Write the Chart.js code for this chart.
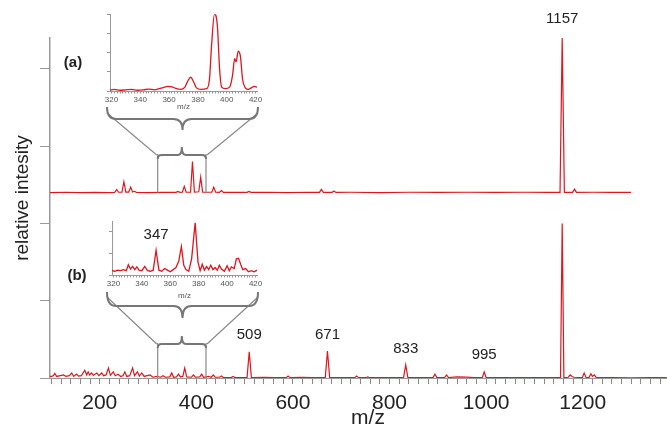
<!DOCTYPE html>
<html>
<head>
<meta charset="utf-8">
<script src="https://cdn.jsdelivr.net/npm/chart.js@4.4.1/dist/chart.umd.min.js"></script>
<style>
  html, body { margin: 0; padding: 0; background: #fff; }
  #wrap { position: relative; width: 667px; height: 433px; overflow: hidden; }
  canvas { position: absolute; }
</style>
</head>
<body>
<div id="wrap">
  <canvas id="main" width="667" height="433" style="left:0;top:0"></canvas>
  <canvas id="insetA" width="172" height="112" style="left:96px;top:4px"></canvas>
  <canvas id="insetB" width="170" height="92" style="left:98px;top:211px"></canvas>
</div>
<script>
// ---- spectrum (a), relative intensity (1157 peak = 2) ----
const aMz = [
  97, 130, 160, 190, 215,
  231, 235, 239, 246, 250, 254, 260, 264, 268, 272, 276,
  300, 330, 358, 362, 366, 371, 375, 379,
  388, 392, 396, 405, 409, 413, 432, 436, 440,
  448, 452, 456, 480, 505, 509, 513,
  550, 590, 630, 655, 659, 663, 681, 685, 689,
  720, 780, 840, 900, 960, 1020, 1080, 1130,
  1153, 1157.5, 1162, 1179, 1183, 1187, 1220, 1260, 1300
];
const aInt = [
  0.000, 0.004, 0.000, 0.003, 0.000,
  0.002, 0.040, 0.004, 0.004, 0.140, 0.006, 0.006, 0.070, 0.006, 0.016, 0.002,
  0.000, 0.003, 0.002, 0.015, 0.003, 0.004, 0.080, 0.004,
  0.004, 0.400, 0.006, 0.010, 0.200, 0.006, 0.004, 0.070, 0.004,
  0.003, 0.025, 0.002, 0.004, 0.002, 0.014, 0.002,
  0.004, 0.000, 0.004, 0.002, 0.040, 0.003, 0.003, 0.020, 0.002,
  0.004, 0.000, 0.004, 0.001, 0.004, 0.001, 0.004, 0.001,
  0.002, 2.000, 0.002, 0.003, 0.045, 0.003, 0.004, 0.001, 0.003
];
const OFFSET_A = 2.4;

// ---- spectrum (b) ----
const bMz = [
  97, 100, 104, 107, 111, 118, 125, 130, 137, 142,
  146, 152, 156, 162, 169, 173, 176, 179, 183, 187,
  190, 194, 198, 204, 208, 213, 218, 222, 228, 232,
  238, 243, 248, 252, 256, 262, 268, 272, 278, 282,
  287, 292, 298, 304, 310, 318, 326, 331, 336, 345,
  349, 353, 359, 363, 367, 372, 376, 380, 390, 394,
  398, 407, 411, 415, 425, 431, 435, 439, 448, 452,
  456, 472, 476, 480, 495, 505, 509.5, 514, 540, 560,
  586, 590, 594, 620, 640, 667, 671.5, 676, 700, 728,
  732, 736, 751, 755, 759, 790, 829, 833.5, 838, 870,
  890, 894, 898, 914, 918, 922, 940, 960, 975, 992,
  996, 1000, 1040, 1080, 1120, 1150, 1154, 1157.5, 1161, 1170,
  1174, 1178, 1182, 1199, 1203, 1207, 1213, 1217, 1220, 1224,
  1228, 1260, 1300, 1340, 1380
];
const bInt = [
  0.02, 0.02, 0.03, 0.06, 0.02, 0.03, 0.04, 0.02, 0.03, 0.065,
  0.02, 0.05, 0.025, 0.03, 0.10, 0.04, 0.08, 0.04, 0.065, 0.035,
  0.05, 0.065, 0.03, 0.065, 0.03, 0.04, 0.13, 0.035, 0.08, 0.03,
  0.05, 0.02, 0.03, 0.08, 0.02, 0.03, 0.13, 0.03, 0.08, 0.025,
  0.065, 0.02, 0.03, 0.04, 0.01, 0.02, 0.01, 0.03, 0.01, 0.015,
  0.065, 0.01, 0.015, 0.05, 0.015, 0.02, 0.13, 0.015, 0.01, 0.04,
  0.01, 0.015, 0.05, 0.01, 0.02, 0.01, 0.04, 0.01, 0.01, 0.025,
  0.005, 0.005, 0.02, 0.005, 0.005, 0.005, 0.34, 0.005, 0.01, 0.005,
  0.005, 0.025, 0.005, 0.01, 0.004, 0.005, 0.35, 0.006, 0.006, 0.005,
  0.025, 0.005, 0.004, 0.013, 0.004, 0.006, 0.005, 0.17, 0.005, 0.006,
  0.005, 0.05, 0.005, 0.005, 0.04, 0.005, 0.015, 0.012, 0.004, 0.005,
  0.08, 0.005, 0.006, 0.004, 0.006, 0.004, 0.005, 2.0, 0.005, 0.01,
  0.04, 0.02, 0.01, 0.005, 0.065, 0.005, 0.005, 0.055, 0.02, 0.04,
  0.005, 0.006, 0.003, 0.006, 0.004
];

// ---- insets (zoom 320-420) ----
const insetAMz = [
  319, 322, 326, 330, 334, 338, 342, 346, 350, 353,
  356, 359, 362, 365, 368, 371, 373, 375, 377, 379,
  382, 386, 388, 389.5, 391.5, 393.5, 395, 396.5, 399, 402,
  404, 405.5, 406.5, 408, 409.5, 411, 413, 415, 417, 419,
  421
];
const insetAInt = [
  0.01, 0.02, 0.01, 0.015, 0.02, 0.01, 0.015, 0.025, 0.015, 0.03,
  0.045, 0.06, 0.055, 0.03, 0.02, 0.05, 0.13, 0.18, 0.12, 0.04,
  0.02, 0.03, 0.15, 0.6, 1.0, 0.85, 0.3, 0.05, 0.03, 0.05,
  0.2, 0.42, 0.38, 0.52, 0.45, 0.15, 0.04, 0.02, 0.04, 0.06,
  0.05
];
const insetBMz = [
  319, 321, 323, 325, 327, 329, 330.5, 332, 333.5, 335,
  336.5, 338, 340, 342, 344, 346, 348, 350, 352, 354,
  356, 358, 360, 362, 364, 366, 367.8, 369.5, 371, 373,
  375, 377.5, 379.5, 381, 382.5, 384, 385.5, 387, 388.5, 390,
  391.5, 393, 394.5, 396, 398, 400, 401.5, 403, 405, 406.5,
  408, 409.5, 411, 413, 415, 417, 419, 421
];
const insetBInt = [
  0.4, 0.35, 0.45, 0.4, 0.5, 0.4, 0.95, 0.55, 0.8, 0.5,
  0.75, 0.45, 0.4, 0.8, 0.4, 0.35, 0.45, 2.3, 0.45, 0.35,
  0.6, 0.45, 0.3, 0.5, 0.7, 1.3, 2.65, 0.9, 0.5, 0.35,
  1.5, 4.85, 1.2, 0.4, 1.0, 0.45, 0.8, 0.5, 0.9, 0.5,
  0.7, 0.45, 0.9, 0.55, 0.35, 0.85, 0.4, 0.75, 0.6, 1.5,
  1.55, 1.0, 0.5, 0.6, 0.3, 0.4, 0.3, 0.45
];

// ---- labels and ticks ----
const peakLabelMzA = [1157.5];
const peakLabelTextA = ['1157'];
const peakLabelMzB = [509.5, 671.5, 833.5, 996];
const peakLabelTextB = ['509', '671', '833', '995'];
const insetPeakMzB = [350];
const insetPeakTextB = ['347'];
const xMajorTicks = [200, 400, 600, 800, 1000, 1200];
const yTicks = [0, 1, 2, 3, 4];
const insetXLabels = [320, 340, 360, 380, 400, 420];
const insetAYTicks = [0, 0.25, 0.5, 0.75, 1];
const insetBYTicks = [0, 1, 2, 3, 4, 5];
const ZOOM_RANGE = [320, 420];

const RED = '#e3141c';
const AXIS = '#999';
const FONT = '"Liberation Sans", Arial, Helvetica, sans-serif';

const xMinorTicks = [];
for (let v = 100; v <= 1360; v += 20) xMinorTicks.push(v);
const insetXTicks = [];
for (let v = 320; v <= 420; v += 2) insetXTicks.push(v);

const toPts = (xs, ys, off = 0) => xs.map((m, i) => ({ x: m, y: ys[i] + off }));

function brace(ctx, x1, x2, yEnd, yMid, yTip, r) {
  const xm = (x1 + x2) / 2;
  ctx.beginPath();
  ctx.moveTo(x1, yEnd);
  ctx.quadraticCurveTo(x1, yMid, x1 + r, yMid);
  ctx.lineTo(xm - r, yMid);
  ctx.quadraticCurveTo(xm, yMid, xm, yTip);
  ctx.quadraticCurveTo(xm, yMid, xm + r, yMid);
  ctx.lineTo(x2 - r, yMid);
  ctx.quadraticCurveTo(x2, yMid, x2, yEnd);
  ctx.stroke();
}

// bracket geometry (pixels) linking each trace to its inset
const BRACKETS = [
  { base: OFFSET_A, small: { end: 159, mid: 155, tip: 147 }, big: { x1: 107, x2: 258, end: 107, mid: 119, tip: 130 }, diagTop: 113 },
  { base: 0,        small: { end: 348, mid: 344, tip: 336 }, big: { x1: 107, x2: 258, end: 292, mid: 306, tip: 318 }, diagTop: 297 }
];

const mainDecor = {
  id: 'mainDecor',
  afterDatasetsDraw(chart) {
    const { ctx, scales: { x, y } } = chart;
    ctx.save();
    const xl = x.getPixelForValue(ZOOM_RANGE[0]);
    const xr = x.getPixelForValue(ZOOM_RANGE[1]);
    BRACKETS.forEach(b => {
      const base = y.getPixelForValue(b.base);
      ctx.strokeStyle = '#8a8a8a';
      ctx.lineWidth = 1.2;
      ctx.beginPath();
      ctx.moveTo(xl, base); ctx.lineTo(xl, b.small.mid - 1);
      ctx.moveTo(xr, base); ctx.lineTo(xr, b.small.mid - 1);
      ctx.moveTo(xl - 1, b.small.mid); ctx.lineTo(b.big.x1, b.diagTop);
      ctx.moveTo(xr + 1, b.small.mid); ctx.lineTo(b.big.x2, b.diagTop);
      ctx.stroke();
      ctx.strokeStyle = '#777';
      ctx.lineWidth = 2;
      brace(ctx, xl, xr, b.small.end, b.small.mid, b.small.tip, 4);
      brace(ctx, b.big.x1, b.big.x2, b.big.end, b.big.mid, b.big.tip, 9);
    });

    ctx.fillStyle = '#222';
    ctx.textAlign = 'center';
    ctx.textBaseline = 'bottom';
    ctx.font = '15px ' + FONT;
    peakLabelMzA.forEach((m, i) => {
      const v = aInt[aMz.indexOf(m)] + OFFSET_A;
      ctx.fillText(peakLabelTextA[i], x.getPixelForValue(m), y.getPixelForValue(v) - 12);
    });
    peakLabelMzB.forEach((m, i) => {
      const v = bInt[bMz.indexOf(m)];
      ctx.fillText(peakLabelTextB[i], x.getPixelForValue(m), y.getPixelForValue(v) - 9);
    });

    ctx.textBaseline = 'middle';
    ctx.font = 'bold 15px ' + FONT;
    ctx.fillText('(a)', 73, 63);
    ctx.fillText('(b)', 77, 276);

    ctx.font = '21px ' + FONT;
    ctx.fillText('m/z', 368, 418);

    ctx.font = '19px ' + FONT;
    ctx.translate(23, 198);
    ctx.rotate(-Math.PI / 2);
    ctx.fillText('relative intesity', 0, 0);
    ctx.restore();
  }
};

new Chart(document.getElementById('main'), {
  type: 'line',
  data: {
    datasets: [
      { data: toPts(aMz, aInt, OFFSET_A), borderColor: RED, borderWidth: 1.2, pointRadius: 0, tension: 0, fill: false },
      { data: toPts(bMz, bInt), borderColor: RED, borderWidth: 1.2, pointRadius: 0, tension: 0, fill: false }
    ]
  },
  options: {
    responsive: false, animation: false, events: [],
    layout: { padding: { left: 0, right: 0, top: 38, bottom: 0 } },
    plugins: { legend: { display: false }, tooltip: { enabled: false } },
    scales: {
      x: {
        type: 'linear', min: 97, max: 1374,
        afterBuildTicks: s => { s.ticks = xMinorTicks.map(v => ({ value: v })); },
        afterFit: s => { s.height = 55; },
        grid: { drawOnChartArea: false, drawTicks: true, tickLength: 6, tickColor: '#888', tickWidth: 1 },
        border: { color: AXIS, width: 1 },
        ticks: {
          autoSkip: false, maxRotation: 0, minRotation: 0, padding: 7, color: '#222',
          font: { family: FONT, size: 21 },
          callback: v => xMajorTicks.includes(v) ? String(v) : ''
        }
      },
      y: {
        min: 0, max: 4.4,
        afterBuildTicks: s => { s.ticks = yTicks.map(v => ({ value: v })); },
        afterFit: s => { s.width = 50; },
        grid: { drawOnChartArea: false, tickLength: 10, tickColor: AXIS, tickWidth: 1 },
        border: { color: AXIS, width: 1.5 },
        ticks: { callback: () => '' }
      }
    }
  },
  plugins: [mainDecor]
});

function insetChart(id, mz, val, yTickList, tension, geo, extra) {
  return new Chart(document.getElementById(id), {
    type: 'line',
    data: { datasets: [{ data: toPts(mz, val), borderColor: RED, borderWidth: 1.3, pointRadius: 0, tension, cubicInterpolationMode: tension ? 'monotone' : 'default', fill: false }] },
    options: {
      responsive: false, animation: false, events: [],
      layout: { padding: { left: 0, right: geo.padRight, top: geo.padTop, bottom: 0 } },
      plugins: { legend: { display: false }, tooltip: { enabled: false } },
      scales: {
        x: {
          type: 'linear', min: 319, max: 421,
          afterBuildTicks: s => { s.ticks = insetXTicks.map(v => ({ value: v })); },
          afterFit: s => { s.height = geo.xHeight; },
          grid: { drawOnChartArea: false, tickLength: 2.5, tickColor: AXIS },
          border: { color: AXIS, width: 1 },
          ticks: {
            autoSkip: false, maxRotation: 0, minRotation: 0, padding: 1, color: '#555',
            font: { family: FONT, size: 8 },
            callback: v => insetXLabels.includes(v) ? String(v) : ''
          },
          title: { display: true, text: 'm/z', color: '#555', font: { family: FONT, size: 8 }, padding: { top: geo.titlePad, bottom: geo.titlePad } }
        },
        y: {
          min: 0, max: yTickList[yTickList.length - 1],
          afterBuildTicks: s => { s.ticks = yTickList.map(v => ({ value: v })); },
          afterFit: s => { s.width = 14; },
          grid: { drawOnChartArea: false, tickLength: 3, tickColor: AXIS },
          border: { color: AXIS, width: 1 },
          ticks: { callback: () => '' }
        }
      }
    },
    plugins: extra ? [extra] : []
  });
}

insetChart('insetA', insetAMz, insetAInt, insetAYTicks, 0.35, { padRight: 11, padTop: 8, xHeight: 25, titlePad: 4 });
insetChart('insetB', insetBMz, insetBInt, insetBYTicks, 0, { padRight: 11, padTop: 6, xHeight: 28, titlePad: 2 }, {
  id: 'insetLabel',
  afterDatasetsDraw(chart) {
    const { ctx, scales: { x, y } } = chart;
    ctx.save();
    ctx.fillStyle = '#222';
    ctx.textAlign = 'center';
    ctx.textBaseline = 'bottom';
    ctx.font = '15px ' + FONT;
    insetPeakMzB.forEach((m, i) => {
      const v = insetBInt[insetBMz.indexOf(m)];
      ctx.fillText(insetPeakTextB[i], x.getPixelForValue(m), y.getPixelForValue(v) - 8);
    });
    ctx.restore();
  }
});
</script>
</body>
</html>
